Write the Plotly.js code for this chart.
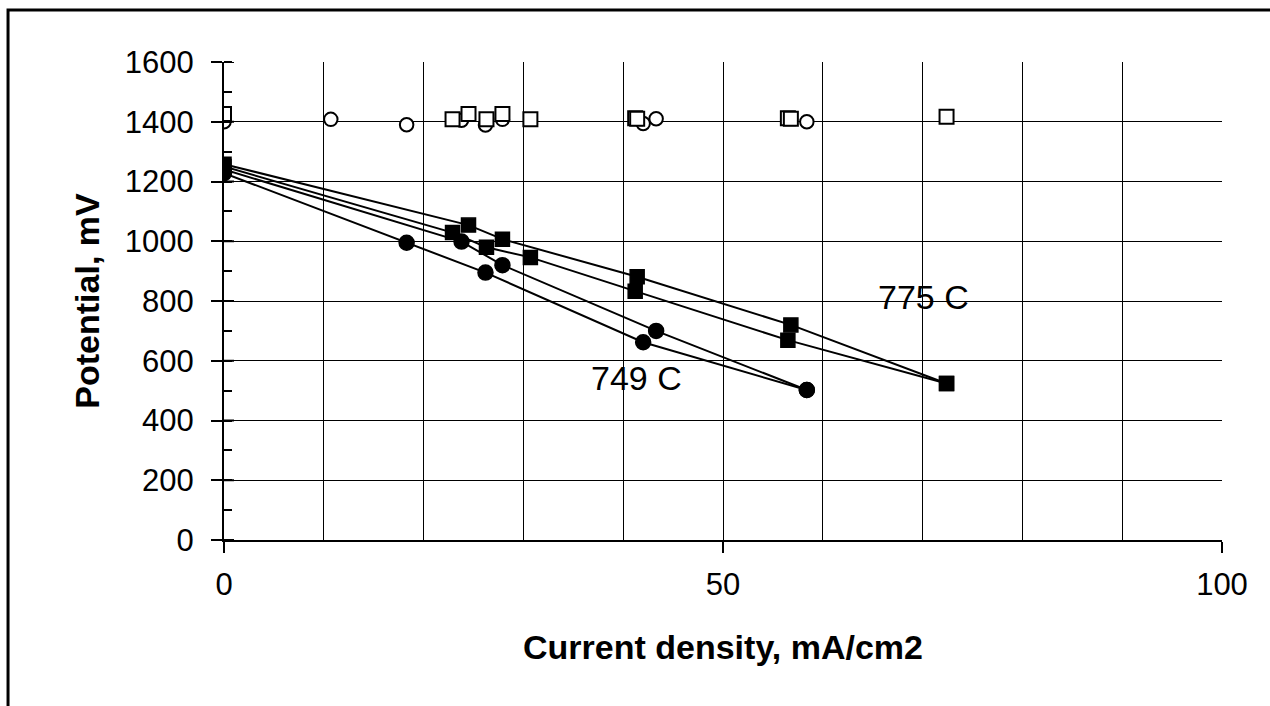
<!DOCTYPE html>
<html>
<head>
<meta charset="utf-8">
<script src="https://cdn.plot.ly/plotly-3.0.1.min.js"></script>
<style>
  html, body { margin: 0; padding: 0; background: #fff; }
  #chart { width: 1270px; height: 706px; }
</style>
</head>
<body>
<div id="chart"></div>
<script>
// Open-circuit (open markers) values, mV
var openSquareX = [0, 22.9, 24.5, 26.3, 27.9, 30.7, 41.2, 41.4, 56.5, 56.8, 72.4];
var openSquareY = [1426, 1408, 1426, 1408, 1426, 1408, 1412, 1410, 1412, 1410, 1417];
var openCircleX = [0, 10.7, 18.3, 23.8, 26.2, 27.9, 42.0, 43.3, 58.4];
var openCircleY = [1400, 1408, 1390, 1405, 1389, 1408, 1394, 1410, 1400];

// 775 C curves (filled squares)
var sq1X = [0, 24.5, 27.9, 41.4, 56.8, 72.4];
var sq1Y = [1258, 1054, 1007, 881, 720, 524];
var sq2X = [0, 22.9, 26.3, 30.7, 41.2, 56.5, 72.4];
var sq2Y = [1250, 1029, 980, 946, 833, 669, 524];

// 749 C curves (filled circles)
var c1X = [0, 23.8, 27.9, 43.3, 58.4];
var c1Y = [1240, 999, 920, 700, 502];
var c2X = [0, 18.3, 26.2, 42.0, 58.4];
var c2Y = [1228, 995, 895, 662, 502];

var labels = ['775 C', '749 C'];
var yMajorTicks = [0, 200, 400, 600, 800, 1000, 1200, 1400, 1600];

var FONT = 'Liberation Sans, Arial, sans-serif';

function lineTrace(x, y, sym) {
  return {
    x: x, y: y, type: 'scatter', mode: 'lines+markers',
    line: { color: '#000', width: 2 },
    marker: { symbol: sym, size: sym === 'square' ? 14 : 15, color: '#000', line: { color: '#000', width: 1.5 } },
    hoverinfo: 'x+y'
  };
}

var traces = [
  lineTrace(c2X, c2Y, 'circle'),
  lineTrace(c1X, c1Y, 'circle'),
  lineTrace(sq2X, sq2Y, 'square'),
  lineTrace(sq1X, sq1Y, 'square'),
  {
    x: openCircleX, y: openCircleY, type: 'scatter', mode: 'markers',
    marker: { symbol: 'circle', size: 13.5, color: '#fff', line: { color: '#000', width: 2 } }
  },
  {
    x: openSquareX, y: openSquareY, type: 'scatter', mode: 'markers',
    marker: { symbol: 'square', size: 14, color: '#fff', line: { color: '#000', width: 2 } }
  }
];

// inside half of the crossing major ticks on the y axis
var tickShapes = yMajorTicks.map(function (v) {
  return { type: 'line', xref: 'x', yref: 'y', xsizemode: 'pixel', xanchor: 0,
           x0: 0, x1: 10, y0: v, y1: v, line: { color: '#000', width: 2 }, layer: 'above' };
});

var layout = {
  width: 1270, height: 706,
  margin: { l: 224, r: 48, t: 62, b: 166 },
  paper_bgcolor: '#fff', plot_bgcolor: '#fff',
  showlegend: false,
  font: { family: FONT, color: '#000' },
  xaxis: {
    range: [0, 100], tick0: 0, dtick: 50,
    ticks: 'outside', ticklen: 11, tickwidth: 2, tickcolor: '#000',
    showline: true, linewidth: 2, linecolor: '#000',
    showgrid: true, gridcolor: '#000', gridwidth: 1,
    minor: { dtick: 10, showgrid: true, gridcolor: '#000', gridwidth: 1, ticks: '' },
    zeroline: false,
    tickfont: { size: 31, family: FONT, color: '#000' },
    ticklabelstandoff: 5,
    title: { text: '<b>Current density, mA/cm2</b>', font: { size: 34, family: FONT, color: '#000' }, standoff: 34 }
  },
  yaxis: {
    range: [0, 1600], tick0: 0, dtick: 200,
    ticks: 'outside', ticklen: 11, tickwidth: 2, tickcolor: '#000',
    showline: true, linewidth: 2, linecolor: '#000',
    showgrid: true, gridcolor: '#000', gridwidth: 1,
    minor: { dtick: 100, ticks: 'inside', ticklen: 8, tickwidth: 2, tickcolor: '#000', showgrid: false },
    zeroline: false,
    tickfont: { size: 31, family: FONT, color: '#000' },
    ticklabelstandoff: 11,
    title: { text: '<b>Potential, mV</b>', font: { size: 34, family: FONT, color: '#000' }, standoff: 15 }
  },
  annotations: [
    { x: 70.1, y: 815, xref: 'x', yref: 'y', text: labels[0], showarrow: false,
      font: { size: 34, family: FONT, color: '#000' } },
    { x: 41.3, y: 542, xref: 'x', yref: 'y', text: labels[1], showarrow: false,
      font: { size: 34, family: FONT, color: '#000' } }
  ],
  shapes: [
    { type: 'rect', xref: 'paper', yref: 'paper',
      x0: -0.2164, x1: 1.08, y0: 1.1088, y1: -0.45,
      line: { color: '#000', width: 3 }, layer: 'above' }
  ].concat(tickShapes)
};

Plotly.newPlot('chart', traces, layout, { displayModeBar: false, staticPlot: true });
</script>
</body>
</html>
